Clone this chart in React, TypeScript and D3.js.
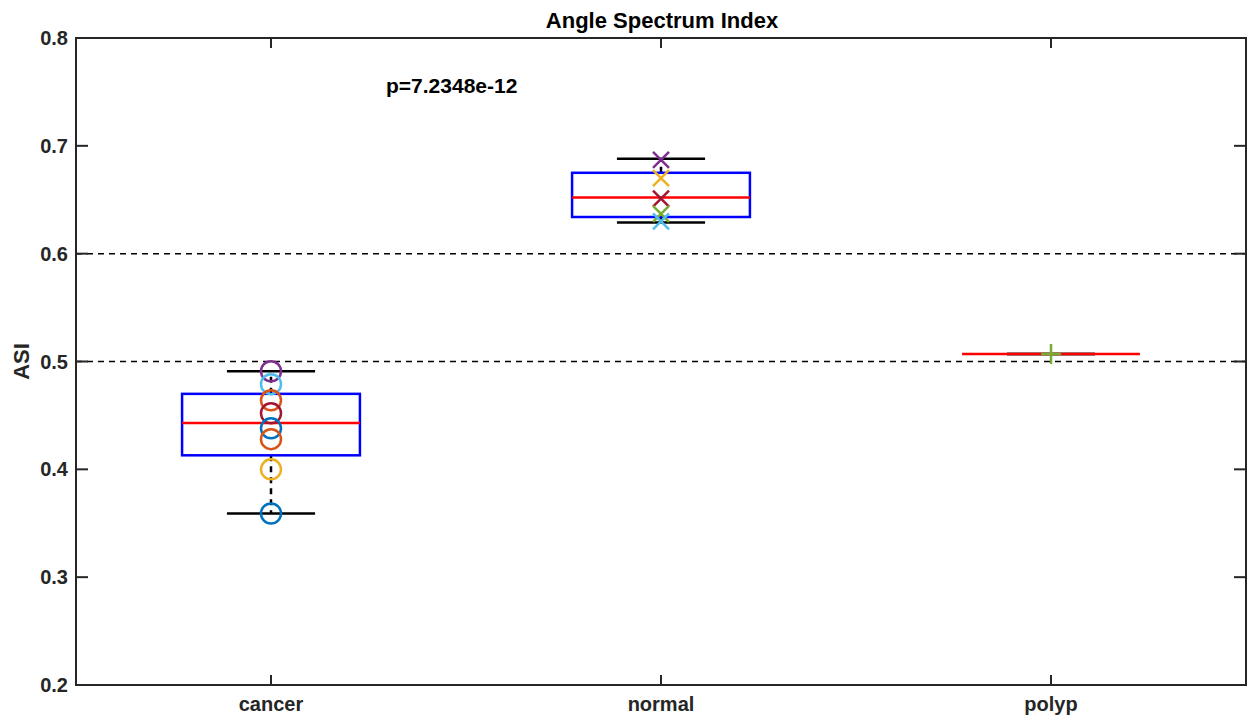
import React from 'react';
import * as d3 from 'd3';

// groups on the x axis
const groups = ['cancer', 'normal', 'polyp'];

// box statistics
const medians = [0.443, 0.652, 0.507];
const q1s = [0.413, 0.634, 0.507];
const q3s = [0.470, 0.675, 0.507];
const whiskerLo = [0.359, 0.629, 0.507];
const whiskerHi = [0.491, 0.688, 0.507];

// individual samples
const cancerValues = [0.491, 0.479, 0.464, 0.452, 0.438, 0.428, 0.400, 0.359];
const cancerColors = ['#7E2F8E', '#4DBEEE', '#D95319', '#A2142F', '#0072BD', '#D95319', '#EDB120', '#0072BD'];
const normalValues = [0.687, 0.670, 0.651, 0.637, 0.630];
const normalColors = ['#7E2F8E', '#EDB120', '#A2142F', '#77AC30', '#4DBEEE'];
const polypValues = [0.507];
const polypColors = ['#77AC30'];

const yTicks = [0.2, 0.3, 0.4, 0.5, 0.6, 0.7, 0.8];
const refLines = [0.5, 0.6];

const title = 'Angle Spectrum Index';
const pText = 'p=7.2348e-12';

const W = 1249;
const H = 719;
const FONT = '"Liberation Sans", Arial, sans-serif';

export default function App() {
  const left = 76, right = 1246, top = 38, bottom = 685;

  const x = d3.scaleLinear().domain([0.5, 3.5]).range([left, right]);
  const y = d3.scaleLinear().domain([0.2, 0.8]).range([bottom, top]);

  const boxHalf = 0.228;
  const capHalf = 0.113;

  const pos = (i: number) => x(i + 1);

  const samples = [
    { vals: cancerValues, cols: cancerColors, kind: 'o' },
    { vals: normalValues, cols: normalColors, kind: 'x' },
    { vals: polypValues, cols: polypColors, kind: '+' },
  ];

  const marker = (kind: string, cx: number, cy: number, color: string, key: string) => {
    if (kind === 'o') {
      return <circle key={key} cx={cx} cy={cy} r={10} fill="none" stroke={color} strokeWidth={2.5} />;
    }
    const s = 8;
    if (kind === 'x') {
      return (
        <g key={key} stroke={color} strokeWidth={2.5}>
          <line x1={cx - s} y1={cy - s} x2={cx + s} y2={cy + s} />
          <line x1={cx - s} y1={cy + s} x2={cx + s} y2={cy - s} />
        </g>
      );
    }
    return (
      <g key={key} stroke={color} strokeWidth={2.5}>
        <line x1={cx - 10} y1={cy} x2={cx + 10} y2={cy} />
        <line x1={cx} y1={cy - 10} x2={cx} y2={cy + 10} />
      </g>
    );
  };

  return (
    <svg width={W} height={H} style={{ position: 'absolute', left: 0, top: 0, background: '#fff' }}
      fontFamily={FONT}>
      {/* reference lines */}
      {refLines.map(v => (
        <line key={v} x1={left} x2={right} y1={y(v)} y2={y(v)} stroke="#000" strokeWidth={1.5} strokeDasharray="6,5" />
      ))}

      {/* boxes */}
      {groups.map((g, i) => {
        const c = pos(i);
        const bx0 = x(i + 1 - boxHalf), bx1 = x(i + 1 + boxHalf);
        const cx0 = x(i + 1 - capHalf), cx1 = x(i + 1 + capHalf);
        return (
          <g key={g}>
            <line x1={c} x2={c} y1={y(q3s[i])} y2={y(whiskerHi[i])} stroke="#000" strokeWidth={2.5} strokeDasharray="6,5" />
            <line x1={c} x2={c} y1={y(q1s[i])} y2={y(whiskerLo[i])} stroke="#000" strokeWidth={2.5} strokeDasharray="6,5" />
            <line x1={cx0} x2={cx1} y1={y(whiskerHi[i])} y2={y(whiskerHi[i])} stroke="#000" strokeWidth={2.5} />
            <line x1={cx0} x2={cx1} y1={y(whiskerLo[i])} y2={y(whiskerLo[i])} stroke="#000" strokeWidth={2.5} />
            <rect x={bx0} y={y(q3s[i])} width={bx1 - bx0} height={Math.max(0, y(q1s[i]) - y(q3s[i]))}
              fill="none" stroke="#0000FF" strokeWidth={2.5} />
            <line x1={bx0} x2={bx1} y1={y(medians[i])} y2={y(medians[i])} stroke="#FF0000" strokeWidth={2.5} />
          </g>
        );
      })}

      {/* samples */}
      {samples.map((s, i) =>
        s.vals.map((v, j) => marker(s.kind, pos(i), y(v), s.cols[j], `${i}-${j}`))
      )}

      {/* axes box */}
      <rect x={left} y={top} width={right - left} height={bottom - top} fill="none" stroke="#262626" strokeWidth={2} />
      {yTicks.map(t => (
        <g key={t}>
          <line x1={left} x2={left + 12} y1={y(t)} y2={y(t)} stroke="#262626" strokeWidth={2} />
          <line x1={right} x2={right - 12} y1={y(t)} y2={y(t)} stroke="#262626" strokeWidth={2} />
          <text x={left - 8} y={y(t) + 7} textAnchor="end" fontSize={20} fontWeight="bold" fill="#262626">
            {t.toFixed(1)}
          </text>
        </g>
      ))}
      {groups.map((g, i) => (
        <g key={g}>
          <line x1={pos(i)} x2={pos(i)} y1={bottom} y2={bottom - 10} stroke="#262626" strokeWidth={2} />
          <line x1={pos(i)} x2={pos(i)} y1={top} y2={top + 10} stroke="#262626" strokeWidth={2} />
          <text x={pos(i)} y={711} textAnchor="middle" fontSize={20} fontWeight="bold" fill="#262626">{g}</text>
        </g>
      ))}

      <text x={662} y={28} textAnchor="middle" fontSize={22} fontWeight="bold" fill="#000">{title}</text>
      <text x={386} y={93} fontSize={21} fontWeight="bold" fill="#000">{pText}</text>
      <text transform={`translate(29,${y(0.5)}) rotate(-90)`} textAnchor="middle" fontSize={22} fontWeight="bold" fill="#262626">ASI</text>
    </svg>
  );
}
